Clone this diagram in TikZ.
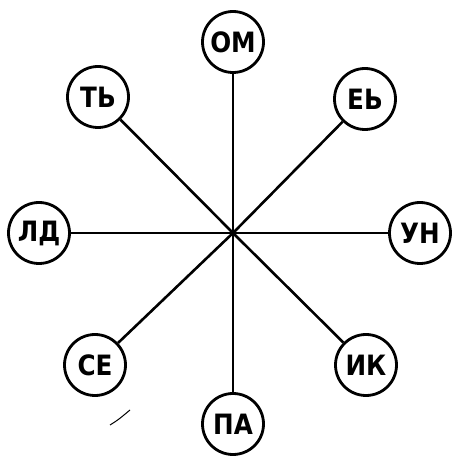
\documentclass[tikz,border=0pt]{standalone}
\usepackage{fontspec}
\newfontfamily\lblfont{DejaVu Sans}[FakeStretch=0.88]
\begin{document}
\begin{tikzpicture}[x=1pt,y=1pt,
  letter/.style={circle,draw=black,line width=2.8pt,minimum size=61pt,inner sep=0pt,
    font=\lblfont\bfseries\fontsize{28}{28}\selectfont},
  spoke/.style={line width=2.6pt}]
\useasboundingbox (0,0) rectangle (452,456);
\coordinate (c) at (233,223);
\node[letter] (om) at (233,414) {ОМ};
\node[letter] (tb) at (98,359) {ТЬ};
\node[letter] (eb) at (365,357) {ЕЬ};
\node[letter] (ld) at (39,223) {ЛД};
\node[letter] (un) at (420,223) {УН};
\node[letter] (se) at (95,91) {СЕ};
\node[letter] (ik) at (366,91) {ИК};
\node[letter] (pa) at (233,32) {ПА};
\foreach \n in {om,tb,eb,ld,un,se,ik,pa} \draw[spoke] (\n) -- (c);
\coordinate (m1) at (110,31);
\coordinate (m2) at (130,46);
\draw[line width=1pt] (m1) .. controls (118,36) .. (m2);
\end{tikzpicture}
\end{document}
